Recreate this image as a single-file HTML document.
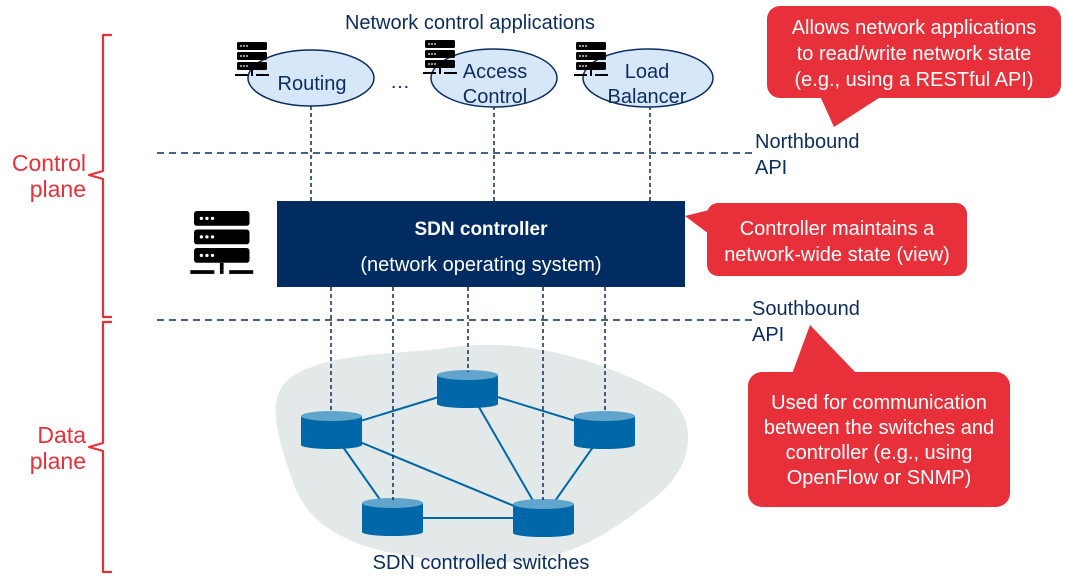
<!DOCTYPE html>
<html><head><meta charset="utf-8"><style>
html,body{margin:0;padding:0;background:#fff;}
svg{display:block;font-family:"Liberation Sans",sans-serif;}
</style></head><body>
<svg width="1067" height="588" viewBox="0 0 1067 588" xmlns="http://www.w3.org/2000/svg">
<defs>
<g id="srv">
<rect x="0" y="0" width="30" height="8" rx="1.5" fill="#000"/>
<rect x="0" y="10" width="30" height="8" rx="1.5" fill="#000"/>
<rect x="0" y="20" width="30" height="8" rx="1.5" fill="#000"/>
<g fill="#fff"><circle cx="4" cy="4" r="0.9"/><circle cx="7" cy="4" r="0.9"/><circle cx="10" cy="4" r="0.9"/>
<circle cx="4" cy="14" r="0.9"/><circle cx="7" cy="14" r="0.9"/><circle cx="10" cy="14" r="0.9"/>
<circle cx="4" cy="24" r="0.9"/><circle cx="7" cy="24" r="0.9"/><circle cx="10" cy="24" r="0.9"/></g>
<rect x="14" y="28" width="2" height="4" fill="#000"/>
<rect x="-2" y="32" width="13" height="2" fill="#000"/>
<rect x="14" y="32" width="2" height="2" fill="#000"/>
<rect x="19" y="32" width="13" height="2" fill="#000"/>
</g>
<g id="cyl">
<rect x="0" y="5" width="61" height="29" fill="#0068a8"/>
<ellipse cx="30.5" cy="34" rx="30.5" ry="4" fill="#0068a8"/>
<ellipse cx="30.5" cy="5" rx="30.5" ry="5" fill="#62a5cc"/>
</g>
</defs>

<!-- braces -->
<path d="M112,35 H103 V171 L89,175 L103,179 V317 H112" fill="none" stroke="#e8303a" stroke-width="2.2" stroke-linejoin="round"/>
<path d="M112,322 H103 V443 L89,447 L103,451 V572 H112" fill="none" stroke="#e8303a" stroke-width="2.2" stroke-linejoin="round"/>
<g fill="#e8303a" font-size="23" text-anchor="end">
<text x="86" y="171">Control</text><text x="86" y="197">plane</text>
<text x="86" y="443">Data</text><text x="86" y="469">plane</text>
</g>

<!-- title -->
<text x="470" y="29" font-size="20" fill="#0b2d5e" text-anchor="middle">Network control applications</text>

<!-- app dashed lines -->
<g stroke="#0b2d5e" stroke-width="1.5" stroke-dasharray="4,3">
<line x1="311" y1="106" x2="311" y2="201"/>
<line x1="494" y1="106" x2="494" y2="201"/>
<line x1="650" y1="106" x2="650" y2="201"/>
</g>

<!-- ellipses -->
<g fill="#d6e7fa" stroke="#0b2d5e" stroke-width="1.5">
<ellipse cx="311" cy="78" rx="63" ry="28"/>
<ellipse cx="494" cy="78" rx="63" ry="29"/>
<ellipse cx="648" cy="78" rx="65" ry="29"/>
</g>
<use href="#srv" x="237" y="42"/>
<use href="#srv" x="425" y="40"/>
<use href="#srv" x="576" y="42"/>
<g font-size="20" fill="#0b2d5e" text-anchor="middle">
<text x="312" y="90">Routing</text>
<text x="495" y="78">Access</text><text x="495" y="103">Control</text>
<text x="647" y="78">Load</text><text x="647" y="103">Balancer</text>
<text x="400" y="88">…</text>
</g>

<!-- API dashed lines -->
<g stroke="#0b2d5e" stroke-width="1.6" stroke-dasharray="7,5">
<line x1="157" y1="153" x2="752" y2="153"/>
<line x1="157" y1="320" x2="752" y2="320"/>
</g>
<g font-size="20" fill="#0b2d5e">
<text x="755" y="148">Northbound</text><text x="755" y="174">API</text>
<text x="752" y="315">Southbound</text><text x="752" y="341">API</text>
</g>

<!-- controller -->
<use href="#srv" x="194" y="211" transform="translate(194,211) scale(1.85) translate(-194,-211)"/>
<rect x="277" y="201" width="408" height="86" fill="#002c61"/>
<text x="481" y="235" font-size="19" font-weight="bold" fill="#fff" text-anchor="middle">SDN controller</text>
<text x="481" y="271" font-size="20" fill="#fff" text-anchor="middle">(network operating system)</text>

<!-- blob -->
<path d="M290,378 C330,350 400,356 460,346 C540,338 620,368 670,398 C700,425 692,470 652,500 C600,540 560,568 470,562 C380,558 318,540 296,490 C278,440 264,398 290,378 Z" fill="#e3e9e8"/>

<!-- links -->
<g stroke="#0068a8" stroke-width="2">
<line x1="331" y1="430" x2="468" y2="388"/>
<line x1="468" y1="388" x2="605" y2="430"/>
<line x1="468" y1="388" x2="543" y2="518"/>
<line x1="331" y1="430" x2="543" y2="518"/>
<line x1="331" y1="430" x2="393" y2="518"/>
<line x1="393" y1="518" x2="543" y2="518"/>
<line x1="605" y1="430" x2="543" y2="518"/>
</g>
<use href="#cyl" x="301" y="411"/>
<use href="#cyl" x="437" y="370"/>
<use href="#cyl" x="574" y="411"/>
<use href="#cyl" x="362" y="498"/>
<use href="#cyl" x="513" y="499"/>

<!-- switch dashed lines -->
<g stroke="#0b2d5e" stroke-width="1.5" stroke-dasharray="4,3">
<line x1="331" y1="287" x2="331" y2="412"/>
<line x1="393" y1="287" x2="393" y2="500"/>
<line x1="468" y1="287" x2="468" y2="372"/>
<line x1="543" y1="287" x2="543" y2="500"/>
<line x1="605" y1="287" x2="605" y2="412"/>
</g>
<text x="481" y="569" font-size="20" fill="#0b2d5e" text-anchor="middle">SDN controlled switches</text>

<!-- callouts -->
<g fill="#e8303a">
<rect x="767" y="6" width="294" height="92" rx="13"/>
<path d="M820,96 L834,127 L882,96 Z"/>
<rect x="707" y="203" width="260" height="73" rx="11"/>
<path d="M709,210 L685,216 L709,234 Z"/>
<rect x="748" y="372" width="262" height="135" rx="14"/>
<path d="M792,374 L810,325 L857,374 Z"/>
</g>
<g fill="#fff" font-size="20" text-anchor="middle">
<text x="914" y="34">Allows network applications</text>
<text x="914" y="60">to read/write network state</text>
<text x="914" y="86">(e.g., using a RESTful API)</text>
<text x="837" y="235">Controller maintains a</text>
<text x="837" y="261">network-wide state (view)</text>
<text x="879" y="409">Used for communication</text>
<text x="879" y="434">between the switches and</text>
<text x="879" y="459">controller (e.g., using</text>
<text x="879" y="484">OpenFlow or SNMP)</text>
</g>
</svg>
</body></html>
